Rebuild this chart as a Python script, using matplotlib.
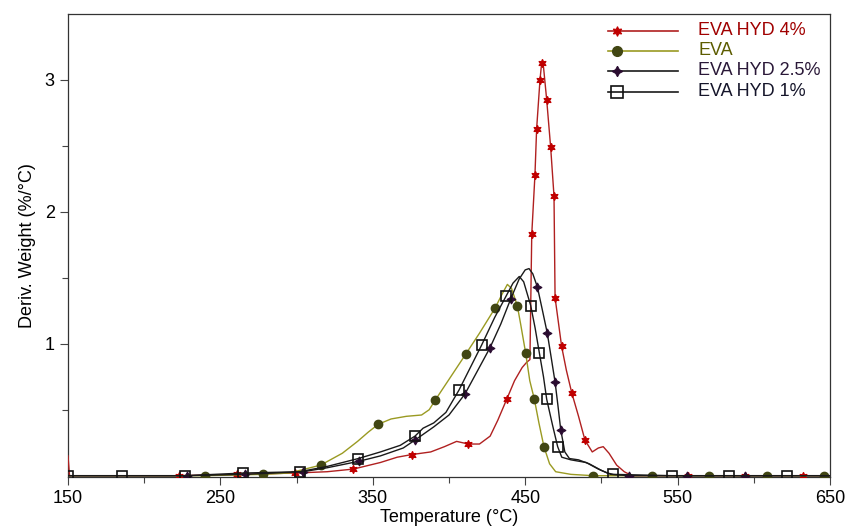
import numpy as np
import matplotlib.pyplot as plt

plt.rcParams['font.family'] = ['Liberation Sans', 'DejaVu Sans']

# EVA HYD 4%
t_hyd4 = [150, 151, 200, 223, 261, 299, 320, 337.2, 355, 366, 375.5, 388, 397, 405,
          412.7, 420, 427, 432, 437.9, 443, 448, 451, 453.1, 454.3, 456.4, 457.5,
          459.7, 460.8, 462, 464.1, 466.7, 468.9, 469.6, 473.9, 477, 480.5, 485,
          489.2, 494, 498, 501.2, 505, 510, 515, 520, 557, 594, 632, 650]
v_hyd4 = [0.15, 0.0, 0.0, 0.0, 0.01, 0.02, 0.03, 0.05, 0.10, 0.14, 0.16, 0.18, 0.22, 0.26,
          0.24, 0.24, 0.30, 0.42, 0.58, 0.72, 0.82, 0.86, 0.88, 1.83, 2.28, 2.63,
          3.00, 3.13, 3.10, 2.85, 2.49, 2.12, 1.35, 0.98, 0.80, 0.63, 0.45,
          0.27, 0.18, 0.21, 0.22, 0.17, 0.08, 0.03, 0.0, 0.0, 0.0, 0.0, 0.0]
m_hyd4 = [223, 261, 299, 337.2, 375.5, 412.7, 437.9, 454.3, 456.4, 457.5, 459.7, 460.8,
          464.1, 466.7, 468.9, 469.6, 473.9, 480.5, 489.2, 557, 594, 632]

# EVA
t_eva = [150, 240, 278, 295, 302, 315.8, 330, 340, 347, 353.6, 362, 372, 382, 387,
         390.8, 400, 410.9, 420, 430.2, 435, 438.3, 441, 444.8, 447, 450.3, 453,
         456, 459, 462.3, 466, 470, 480, 494.5, 533, 570.6, 608.7, 646, 650]
v_eva = [0.0, 0.0, 0.01, 0.02, 0.04, 0.08, 0.17, 0.26, 0.33, 0.39, 0.43, 0.45, 0.46, 0.50,
         0.57, 0.73, 0.92, 1.08, 1.27, 1.38, 1.45, 1.42, 1.29, 1.15, 0.93, 0.72,
         0.58, 0.40, 0.22, 0.09, 0.03, 0.01, 0.0, 0.0, 0.0, 0.0, 0.0, 0.0]
m_eva = [240, 278, 315.8, 353.6, 390.8, 410.9, 430.2, 444.8, 450.3, 456, 462.3,
         494.5, 533, 570.6, 608.7, 646]

# EVA HYD 2.5%
t_hyd25 = [150, 228, 266, 304, 320, 341.2, 355, 370, 377.7, 390, 400, 410.5, 418,
           426.9, 434, 440.5, 446, 450, 452.5, 455, 458, 461, 464.5, 467, 469.6,
           471.5, 473.3, 476, 479, 485, 492, 500, 506, 518, 556, 594, 650]
v_hyd25 = [0.0, 0.0, 0.01, 0.03, 0.06, 0.11, 0.15, 0.21, 0.27, 0.37, 0.46, 0.62, 0.78,
           0.97, 1.15, 1.34, 1.49, 1.56, 1.57, 1.53, 1.43, 1.27, 1.08, 0.90, 0.71,
           0.53, 0.35, 0.18, 0.13, 0.12, 0.09, 0.04, 0.01, 0.0, 0.0, 0.0, 0.0]
m_hyd25 = [228, 266, 304, 341.2, 377.7, 410.5, 426.9, 440.5, 458, 464.5, 469.6,
           473.3, 518, 556, 594]

# EVA HYD 1%
t_hyd1 = [150, 185.6, 227, 265, 302, 320, 340.5, 355, 368, 377.7, 383, 390, 398,
          406.6, 414, 421.4, 430, 437.4, 442, 446.1, 449, 453.6, 456.5, 459.3, 462,
          464.1, 468, 471.3, 474, 480, 490, 498, 504, 507.8, 546, 584, 622, 650]
v_hyd1 = [0.0, 0.0, 0.0, 0.02, 0.03, 0.07, 0.13, 0.18, 0.23, 0.30, 0.36, 0.40, 0.48,
          0.65, 0.82, 0.99, 1.20, 1.36, 1.46, 1.51, 1.47, 1.29, 1.12, 0.93, 0.75,
          0.58, 0.38, 0.22, 0.14, 0.12, 0.10, 0.05, 0.02, 0.01, 0.0, 0.0, 0.0, 0.0]
m_hyd1 = [150, 185.6, 227, 265, 302, 340.5, 377.7, 406.6, 421.4, 437.4, 453.6,
          459.3, 464.1, 471.3, 507.8, 546, 584, 622]

labels = ['EVA HYD 4%', 'EVA', 'EVA HYD 2.5%', 'EVA HYD 1%']

series = [
    (t_hyd4, v_hyd4, m_hyd4, dict(color='#b02020', marker=(6, 1, 0), ms=6,
                                  mfc='#c00000', mec='#c00000', mew=0.8)),
    (t_eva, v_eva, m_eva, dict(color='#9a9a22', marker='o', ms=6,
                               mfc='#414613', mec='#414613')),
    (t_hyd25, v_hyd25, m_hyd25, dict(color='#1a1a1a', marker=(4, 1, 0), ms=6.5,
                                     mfc='#2a0c30', mec='#2a0c30', mew=0.8)),
    (t_hyd1, v_hyd1, m_hyd1, dict(color='#1a1a1a', marker='s', ms=7,
                                  mfc='none', mec='#111111', mew=1.2)),
]
text_colors = ['#a00000', '#5c5c00', '#2a1838', '#15152a']

fig = plt.figure(figsize=(8.46, 5.31), dpi=100)
ax = fig.add_axes([68 / 846, 1 - 477 / 531, 762 / 846, 463 / 531])

for t, v, marks, st in series:
    idx = [t.index(m) for m in marks]
    ax.plot(t, v, lw=1.0, markevery=idx, zorder=3, **st)

# legend drawn by hand: marker sits at the left end of the sample line
y_rows = [0.964, 0.921, 0.877, 0.832]
for (t, v, marks, st), lab, tc, yr in zip(series, labels, text_colors, y_rows):
    ax.plot([0.709, 0.801], [yr, yr], transform=ax.transAxes, color=st['color'],
            lw=1.2, clip_on=False, zorder=4)
    ax.plot([0.720], [yr], transform=ax.transAxes, linestyle='none',
            marker=st['marker'], ms=st['ms'] + 1, mfc=st['mfc'], mec=st['mec'],
            mew=st.get('mew', 1.0), clip_on=False, zorder=5)
    ax.text(0.827, yr, lab, transform=ax.transAxes, color=tc, fontsize=13,
            va='center', ha='left')

ax.set_xlim(150, 650)
ax.set_ylim(-0.01, 3.5)
ax.set_xticks(np.arange(150, 651, 100))
ax.set_xticks(np.arange(200, 601, 100), minor=True)
ax.set_yticks([1, 2, 3])
ax.set_yticks([0.5, 1.5, 2.5], minor=True)
ax.tick_params(which='major', length=6, width=0.8, labelsize=13, color='#444444')
ax.tick_params(which='minor', length=4, width=0.8, color='#444444')
for s in ax.spines.values():
    s.set_color('#333333')
    s.set_linewidth(0.9)

ax.set_xlabel('Temperature (°C)', fontsize=13, labelpad=1)
ax.set_ylabel('Deriv. Weight (%/°C)', fontsize=13, labelpad=6)

fig.savefig('out.png', dpi=100)
